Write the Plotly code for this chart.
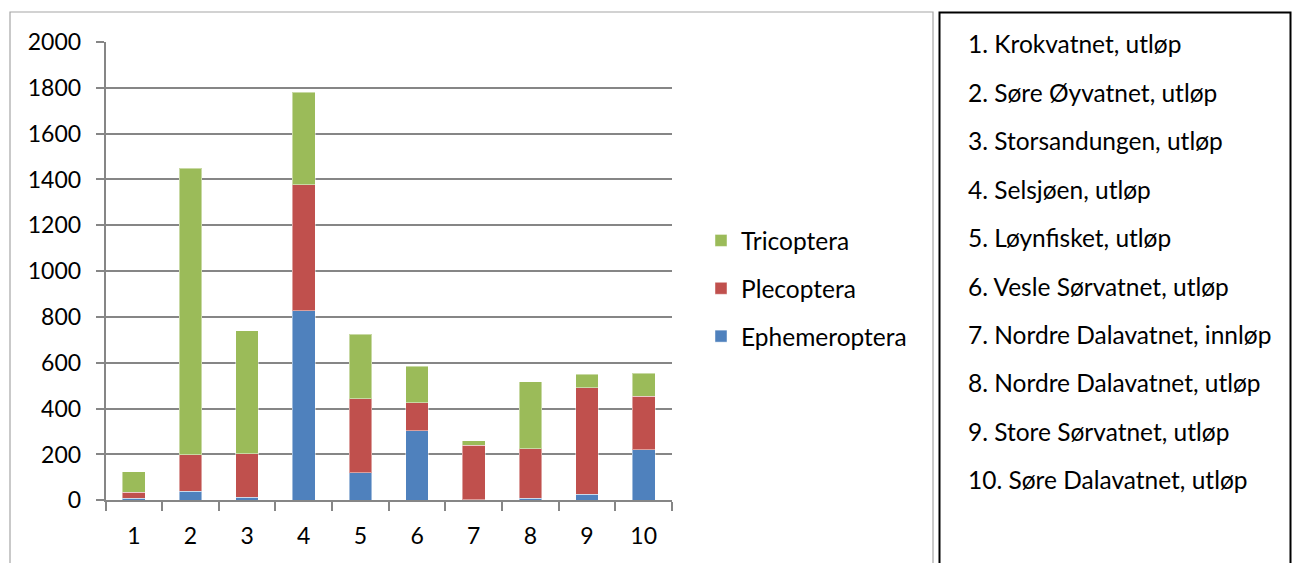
import plotly.graph_objects as go

# Sampling sites (x-axis categories) and their names
sites = ["1", "2", "3", "4", "5", "6", "7", "8", "9", "10"]
site_names = [
    "1. Krokvatnet, utløp",
    "2. Søre Øyvatnet, utløp",
    "3. Storsandungen, utløp",
    "4. Selsjøen, utløp",
    "5. Løynfisket, utløp",
    "6. Vesle Sørvatnet, utløp",
    "7. Nordre Dalavatnet, innløp",
    "8. Nordre Dalavatnet, utløp",
    "9. Store Sørvatnet, utløp",
    "10. Søre Dalavatnet, utløp",
]

# Counts per insect order, stacked bottom to top
ephemeroptera = [9, 39, 14, 828, 121, 304, 3, 9, 26, 220]
plecoptera = [26, 159, 189, 550, 323, 122, 238, 216, 466, 234]
tricoptera = [90, 1252, 536, 402, 281, 160, 18, 292, 58, 101]

y_ticks = [0, 200, 400, 600, 800, 1000, 1200, 1400, 1600, 1800, 2000]

W, H = 1303, 563


def px(x):
    return x / W


def py(y):
    return 1 - y / H


FONT = "Lato"
TEXT_SIZE = 24.5
TICK_SIZE = 23
GRID = "#868686"

fig = go.Figure()
for rank, (name, vals, color) in enumerate([
    ("Ephemeroptera", ephemeroptera, "#4F81BD"),
    ("Plecoptera", plecoptera, "#C0504D"),
    ("Tricoptera", tricoptera, "#9BBB59"),
]):
    fig.add_trace(go.Bar(
        x=sites, y=vals, name=name, legendgroup=name, legendrank=3 - rank,
        marker=dict(color=color, line=dict(color="rgba(255,255,255,0.45)", width=1)),
    ))

fig.update_layout(
    template="none",
    width=W, height=H,
    margin=dict(l=0, r=0, t=0, b=0, pad=0, autoexpand=False),
    paper_bgcolor="white", plot_bgcolor="white",
    barmode="stack", bargap=0.6,
    font=dict(family=FONT, size=TEXT_SIZE, color="black"),
    showlegend=True,
    legend=dict(
        x=px(701), y=py(218), xanchor="left", yanchor="top",
        traceorder="grouped", tracegroupgap=13,
        font=dict(family=FONT, size=TEXT_SIZE, color="black"),
        bgcolor="rgba(0,0,0,0)", borderwidth=0,
    ),
    xaxis=dict(
        domain=[px(105.5), px(672)],
        type="category", automargin=False,
        showline=True, linecolor=GRID, linewidth=1.6,
        ticks="outside", tickson="boundaries", ticklen=9,
        tickcolor=GRID, tickwidth=1.6,
        showgrid=False, zeroline=False, ticklabelstandoff=14,
        tickfont=dict(family=FONT, size=TICK_SIZE, color="black"),
    ),
    yaxis=dict(
        domain=[py(500.3), py(42)],
        range=[0, 2000], tickvals=y_ticks, automargin=False,
        showline=True, linecolor=GRID, linewidth=1.6,
        ticks="outside", ticklen=8, tickcolor=GRID, tickwidth=1.6,
        showgrid=True, gridcolor=GRID, gridwidth=1.6,
        zeroline=False, ticklabelstandoff=10,
        tickfont=dict(family=FONT, size=TICK_SIZE, color="black"),
    ),
)

# Chart frame and the site list box
fig.add_shape(type="rect", xref="paper", yref="paper",
              x0=px(10), x1=px(933), y0=py(580), y1=py(12),
              line=dict(color="#a6a6a6", width=1.2), layer="below")
fig.add_shape(type="rect", xref="paper", yref="paper",
              x0=px(939.5), x1=px(1290.5), y0=py(580), y1=py(12.5),
              line=dict(color="black", width=2))

for i, label in enumerate(site_names):
    fig.add_annotation(
        xref="paper", yref="paper", x=px(966), y=py(44 + i * 48.4),
        xanchor="left", yanchor="middle", showarrow=False,
        text=label, font=dict(family=FONT, size=TEXT_SIZE, color="black"),
    )

fig.write_html("out.html")
